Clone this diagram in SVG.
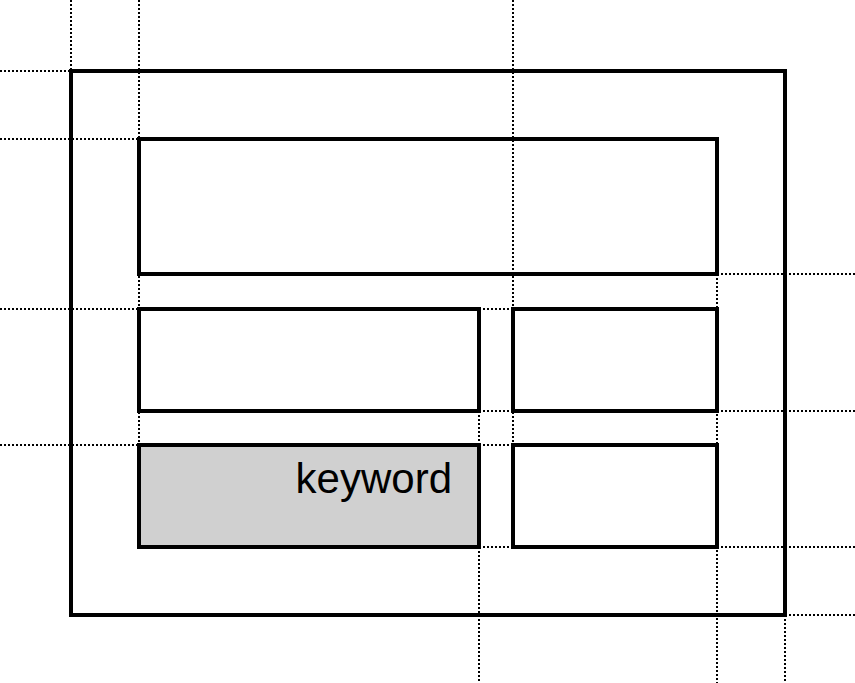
<svg xmlns="http://www.w3.org/2000/svg" width="855" height="683" viewBox="0 0 855 683">
<style>
.guide{stroke:#000;stroke-width:2;stroke-dasharray:2 2;fill:none}
.box{stroke:#000;stroke-width:4;fill:none}
.kw{fill:#d0d0d0}
.lbl{font-family:"Liberation Sans",Arial,sans-serif;font-size:42px;fill:#000}
</style>
<rect width="855" height="683" fill="#fff"/>
<g id="connectors">
<line class="guide" x1="71" y1="0" x2="71" y2="71"/>
<line class="guide" x1="139" y1="0" x2="139" y2="445"/>
<line class="guide" x1="513" y1="0" x2="513" y2="445"/>
<line class="guide" x1="479" y1="411" x2="479" y2="683"/>
<line class="guide" x1="717" y1="274" x2="717" y2="683"/>
<line class="guide" x1="785" y1="615" x2="785" y2="683"/>
<line class="guide" x1="0" y1="71" x2="71" y2="71"/>
<line class="guide" x1="0" y1="139" x2="139" y2="139"/>
<line class="guide" x1="0" y1="309" x2="139" y2="309"/>
<line class="guide" x1="0" y1="445" x2="139" y2="445"/>
<line class="guide" x1="479" y1="309" x2="513" y2="309"/>
<line class="guide" x1="479" y1="411" x2="513" y2="411"/>
<line class="guide" x1="479" y1="445" x2="513" y2="445"/>
<line class="guide" x1="479" y1="547" x2="513" y2="547"/>
<line class="guide" x1="717" y1="274" x2="855" y2="274"/>
<line class="guide" x1="717" y1="411" x2="855" y2="411"/>
<line class="guide" x1="717" y1="547" x2="855" y2="547"/>
<line class="guide" x1="785" y1="615" x2="855" y2="615"/>
</g>
<g id="outer"><rect class="box" x="71" y="71" width="714" height="544"/></g>
<g id="top"><rect class="box" x="139" y="139" width="578" height="135"/></g>
<g id="mid-left"><rect class="box" x="139" y="309" width="340" height="102"/></g>
<g id="mid-right"><rect class="box" x="513" y="309" width="204" height="102"/></g>
<g id="bottom-left"><rect class="box kw" x="139" y="445" width="340" height="102"/><text class="lbl" x="452" y="493" text-anchor="end">keyword</text></g>
<g id="bottom-right"><rect class="box" x="513" y="445" width="204" height="102"/></g>
</svg>
